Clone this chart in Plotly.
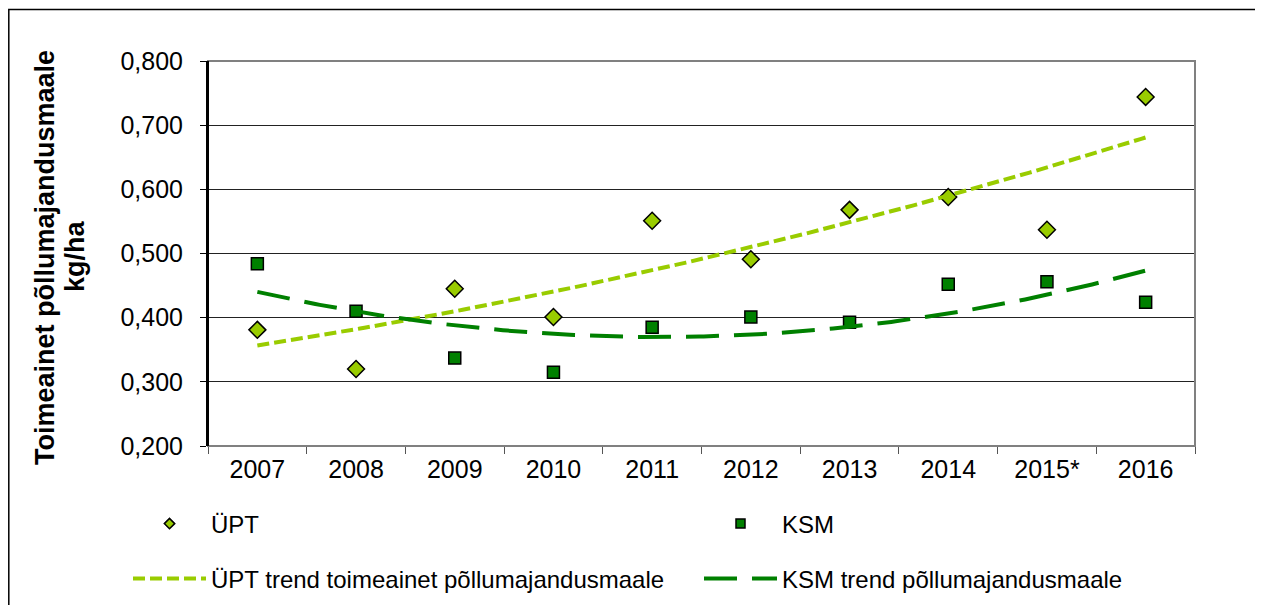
import numpy as np
import plotly.graph_objects as go

years = ["2007", "2008", "2009", "2010", "2011", "2012", "2013", "2014", "2015*", "2016"]
upt = [0.381, 0.320, 0.445, 0.401, 0.551, 0.491, 0.568, 0.588, 0.537, 0.744]
ksm = [0.484, 0.410, 0.337, 0.315, 0.385, 0.401, 0.393, 0.452, 0.456, 0.424]
y_ticks = [0.2, 0.3, 0.4, 0.5, 0.6, 0.7, 0.8]

x = np.arange(1, len(years) + 1)
xs = np.linspace(1, len(years), 200)
upt_fit = np.polyval(np.polyfit(x, upt, 2), xs)
ksm_fit = np.polyval(np.polyfit(x, ksm, 2), xs)

LIGHT = "#99CC00"
DARK = "#008000"
FONT = "Liberation Sans, Arial, sans-serif"

# page geometry (body has an 8px margin)
OFF = 8
L, R, T, B = 208, 1195, 61, 446          # plot area in page pixels
W, H = 1263 - OFF, 605 - OFF
pw, ph = R - L, B - T

def px(v):
    return (v - L) / pw

def py(v):
    return (B - v) / ph

fig = go.Figure()
fig.add_trace(go.Scatter(x=x, y=upt, mode="markers", name="ÜPT", showlegend=False,
                         marker=dict(symbol="diamond", size=13, color=LIGHT,
                                     line=dict(color="black", width=1.5))))
fig.add_trace(go.Scatter(x=x, y=ksm, mode="markers", name="KSM", showlegend=False,
                         marker=dict(symbol="square", size=12, color=DARK,
                                     line=dict(color="black", width=1.5))))
fig.add_trace(go.Scatter(x=xs, y=upt_fit, mode="lines", name="ÜPT trend toimeainet põllumajandusmaale",
                         showlegend=False,
                         line=dict(color=LIGHT, width=4, dash="12px,5px")))
fig.add_trace(go.Scatter(x=xs, y=ksm_fit, mode="lines", name="KSM trend põllumajandusmaale",
                         showlegend=False,
                         line=dict(color=DARK, width=4, dash="33px,15px")))

# legend entries (no data, legend only)
fig.add_trace(go.Scatter(x=[None], y=[None], mode="markers", name="ÜPT", legend="legend",
                         marker=dict(symbol="diamond", size=8, color=LIGHT,
                                     line=dict(color="black", width=1.5))))
fig.add_trace(go.Scatter(x=[None], y=[None], mode="markers", name="KSM", legend="legend2",
                         marker=dict(symbol="square", size=9, color=DARK,
                                     line=dict(color="black", width=1.5))))
fig.add_trace(go.Scatter(x=[None], y=[None], mode="lines",
                         name="ÜPT trend toimeainet põllumajandusmaale", legend="legend3",
                         line=dict(color=LIGHT, width=4, dash="12px,5px")))
fig.add_trace(go.Scatter(x=[None], y=[None], mode="lines",
                         name="KSM trend põllumajandusmaale", legend="legend4",
                         line=dict(color=DARK, width=4, dash="33px,15px")))

# category-boundary ticks
fig.add_trace(go.Scatter(x=[0.5, 10.5], y=[None, None], xaxis="x2", showlegend=False,
                         hoverinfo="skip"))

def leg(xpage, ypage, iw):
    return dict(orientation="h", x=px(xpage), y=py(ypage), xanchor="left", yanchor="middle",
                font=dict(size=24), bgcolor="rgba(0,0,0,0)", itemwidth=iw)

title_font = dict(family=FONT, size=27, color="black")

fig.update_layout(
    width=W, height=H,
    margin=dict(l=L - OFF, r=W - (R - OFF), t=T - OFF, b=H - (B - OFF), autoexpand=False),
    paper_bgcolor="white", plot_bgcolor="white",
    separators=", ",
    font=dict(family=FONT, size=25, color="black"),
    xaxis=dict(range=[0.5, 10.5], tickvals=list(x), ticktext=years, showgrid=False,
               zeroline=False, ticks="", showline=False, tickfont=dict(size=25),
               ticklabelstandoff=6),
    xaxis2=dict(range=[0.5, 10.5], overlaying="x", side="bottom",
                tickvals=[i + 0.5 for i in range(11)], showticklabels=False,
                ticks="outside", ticklen=7, tickcolor="#555555", showgrid=False,
                zeroline=False, showline=False),
    yaxis=dict(range=[0.2, 0.8], tickvals=y_ticks, tickformat=".3f",
               showgrid=True, gridcolor="#222222", gridwidth=1, zeroline=False,
               ticks="outside", ticklen=6, tickcolor="black", ticklabelstandoff=12,
               showline=True, linecolor="black", linewidth=2, tickfont=dict(size=25)),
    legend=leg(128, 524, 73),
    legend2=leg(699, 524, 73),
    legend3=leg(128, 579, 73),
    legend4=leg(699, 579, 73),
    showlegend=True,
    annotations=[
        dict(text="<b>Toimeainet põllumajandusmaale</b>", textangle=-90,
             xref="paper", yref="paper", x=px(45), y=py(258), xanchor="center",
             yanchor="middle", showarrow=False, font=title_font),
        dict(text="<b>kg/ha</b>", textangle=-90,
             xref="paper", yref="paper", x=px(75), y=py(256), xanchor="center",
             yanchor="middle", showarrow=False, font=title_font),
    ],
    shapes=[
        dict(type="rect", xref="paper", yref="paper", x0=0, x1=1, y0=0, y1=1,
             line=dict(color="#808080", width=2), layer="above"),
        dict(type="line", xref="paper", yref="paper", x0=0, x1=0, y0=0, y1=1,
             line=dict(color="black", width=2), layer="above"),
        dict(type="rect", xref="paper", yref="paper", x0=px(8.8), x1=px(1256),
             y0=py(640), y1=py(9.5), line=dict(color="black", width=1.5), layer="above"),
    ],
)

fig.write_html("out.html")
